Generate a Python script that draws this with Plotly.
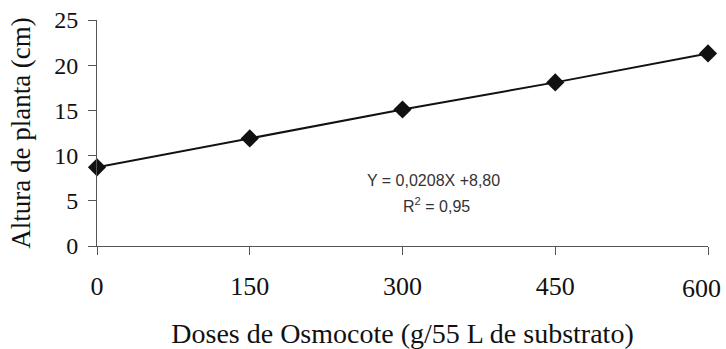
import plotly.graph_objects as go

doses = [0, 150, 300, 450, 600]
altura = [8.7, 11.9, 15.1, 18.1, 21.3]
x_ticks = [0, 150, 300, 450, 600]
x_ticktext = ["0", "150", "300", "450", ""]
last_label = "600"
y_ticks = [0, 5, 10, 15, 20, 25]

fig = go.Figure()
fig.add_trace(go.Scatter(
    x=doses, y=altura, mode="lines+markers",
    line=dict(color="#111111", width=2),
    marker=dict(symbol="diamond", size=14, color="#111111"),
    cliponaxis=False, showlegend=False,
))

serif = "Liberation Serif"
fig.update_layout(
    width=726, height=349,
    margin=dict(l=97, r=18, t=20, b=103),
    plot_bgcolor="white", paper_bgcolor="white",
    font=dict(family=serif, size=24, color="#111111"),
    xaxis=dict(
        range=[0, 600], tickvals=x_ticks, ticktext=x_ticktext,
        showgrid=False, zeroline=False,
        showline=True, linecolor="#555555", linewidth=1,
        ticks="outside", ticklen=8, tickcolor="#555555",
        ticklabelstandoff=9, automargin=False,
        tickfont=dict(family=serif, size=26),
        title=dict(text="Doses de Osmocote (g/55 L de substrato)", standoff=31,
                   font=dict(family=serif, size=28)),
    ),
    yaxis=dict(
        range=[0, 25], tickvals=y_ticks, showgrid=False, zeroline=False,
        showline=True, linecolor="#555555", linewidth=1,
        ticks="outside", ticklen=8, tickcolor="#555555",
        ticklabelstandoff=5, automargin=False,
        tickfont=dict(family=serif, size=24),
        title=dict(text="Altura de planta (cm)", standoff=15,
                   font=dict(family=serif, size=27)),
    ),
    annotations=[
        dict(x=0.55, y=0.288, xref="paper", yref="paper",
             xanchor="center", yanchor="middle",
             text="Y = 0,0208X +8,80", showarrow=False,
             font=dict(family="Liberation Sans", size=16, color="#333333")),
        dict(x=0.555, y=0.181, xref="paper", yref="paper",
             xanchor="center", yanchor="middle",
             text="R<sup>2</sup> = 0,95", showarrow=False,
             font=dict(family="Liberation Sans", size=16, color="#333333")),
        dict(x=x_ticks[-1], y=-0.186, xref="x", yref="paper",
             xanchor="center", yanchor="middle", xshift=-7,
             text=last_label, showarrow=False,
             font=dict(family=serif, size=26, color="#111111")),
    ],
)

fig.write_html("out.html", config={"displayModeBar": False},
               post_script="document.body.style.margin='0';")
